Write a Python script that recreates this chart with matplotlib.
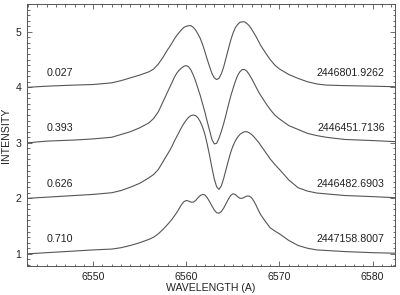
import numpy as np
import matplotlib
matplotlib.use("Agg")
import matplotlib.pyplot as plt
from matplotlib.ticker import MultipleLocator

plt.rcParams['font.family'] = ['Liberation Sans', 'DejaVu Sans']

# wavelength samples: coarse wings, 0.25 A steps across the line core
wave_left = [6543, 6545, 6548, 6550, 6552, 6553, 6554, 6555, 6556, 6556.5, 6557, 6557.5]
wave_core = list(np.arange(6558, 6568.01, 0.25))
wave_right = [6568.5, 6569, 6569.5, 6570, 6571, 6572, 6573, 6574, 6575, 6577, 6580, 6582.5]
wave = wave_left + wave_core + wave_right

spec1 = [4.00, 4.02, 4.04, 4.05, 4.08, 4.12, 4.17, 4.22, 4.28, 4.33, 4.42, 4.54,
         4.68, 4.74, 4.81, 4.88, 4.94, 4.99, 5.04, 5.08, 5.10, 5.11, 5.11, 5.08,
         5.03, 4.96, 4.88, 4.77, 4.64, 4.50, 4.37, 4.25, 4.17, 4.14, 4.16, 4.24,
         4.36, 4.52, 4.68, 4.84, 4.97, 5.07, 5.13, 5.17, 5.18, 5.18, 5.15, 5.11,
         5.05, 4.98, 4.91, 4.83, 4.75,
         4.62, 4.50, 4.40, 4.33, 4.23, 4.16, 4.10, 4.06, 4.04, 4.03, 4.02, 4.01]

spec2 = [3.00, 3.03, 3.05, 3.07, 3.10, 3.15, 3.20, 3.27, 3.36, 3.44, 3.56, 3.74,
         3.92, 4.01, 4.10, 4.19, 4.26, 4.31, 4.35, 4.38, 4.39, 4.37, 4.31, 4.22,
         4.11, 3.98, 3.85, 3.70, 3.55, 3.38, 3.22, 3.06, 2.98, 2.99, 3.08, 3.20,
         3.34, 3.50, 3.67, 3.83, 3.97, 4.10, 4.21, 4.28, 4.32, 4.32, 4.29, 4.23,
         4.16, 4.08, 4.00, 3.92, 3.85,
         3.72, 3.60, 3.50, 3.43, 3.31, 3.24, 3.17, 3.13, 3.10, 3.06, 3.04, 3.02]

spec3 = [2.00, 2.02, 2.05, 2.07, 2.10, 2.14, 2.20, 2.27, 2.37, 2.43, 2.52, 2.66,
         2.80, 2.87, 2.95, 3.04, 3.12, 3.20, 3.28, 3.35, 3.41, 3.46, 3.49, 3.50,
         3.49, 3.45, 3.38, 3.28, 3.15, 2.97, 2.77, 2.55, 2.35, 2.21, 2.16, 2.22,
         2.35, 2.51, 2.67, 2.82, 2.94, 3.03, 3.10, 3.15, 3.18, 3.20, 3.20, 3.18,
         3.15, 3.11, 3.06, 3.01, 2.95,
         2.83, 2.71, 2.61, 2.52, 2.33, 2.19, 2.13, 2.095, 2.08, 2.05, 2.03, 2.01]

spec4 = [1.00, 1.02, 1.05, 1.07, 1.085, 1.11, 1.15, 1.20, 1.26, 1.30, 1.36, 1.44,
         1.53, 1.58, 1.63, 1.69, 1.75, 1.82, 1.89, 1.94, 1.96, 1.95, 1.93, 1.93,
         1.96, 2.01, 2.05, 2.07, 2.06, 2.01, 1.94, 1.86, 1.79, 1.74, 1.73, 1.76,
         1.82, 1.90, 1.98, 2.05, 2.08, 2.07, 2.03, 2.00, 2.00, 2.02, 2.04, 2.04,
         2.01, 1.95, 1.87, 1.78, 1.70,
         1.58, 1.47, 1.41, 1.36, 1.24, 1.15, 1.10, 1.07, 1.06, 1.04, 1.02, 1.01]

phases = ["0.027", "0.393", "0.626", "0.710"]
dates = ["2446801.9262", "2446451.7136", "2446482.6903", "2447158.8007"]
offsets = [4, 3, 2, 1]

col = '#555555'
txt = '#222222'
fig = plt.figure(figsize=(4.0, 2.95), dpi=100)
ax = fig.add_axes([0.0675, 0.0983, 0.92, 0.888])

for s, ph, d, off in zip([spec1, spec2, spec3, spec4], phases, dates, offsets):
    ax.plot(wave, s, color=col, lw=0.8)
    ax.text(6545.0, off + 0.26, ph, fontsize=7.7, color=txt, va='center', ha='left')
    ax.text(6581.3, off + 0.26, d, fontsize=7.7, color=txt, va='center', ha='right')

ax.set_xlim(6542.9, 6582.4)
ax.set_ylim(0.78, 5.5)
ax.set_xticks([6550, 6560, 6570, 6580])
ax.set_yticks([1, 2, 3, 4, 5])
ax.xaxis.set_minor_locator(MultipleLocator(1))
ax.yaxis.set_minor_locator(MultipleLocator(0.1))
ax.tick_params(which='both', direction='in', top=True, right=True, colors=col,
               labelcolor=txt, labelsize=7.6, width=0.6)
ax.tick_params(which='major', length=3.5, pad=4)
ax.tick_params(which='minor', length=1.8)
for sp in ax.spines.values():
    sp.set_color(col)
    sp.set_linewidth(0.7)

ax.set_xlabel("WAVELENGTH (A)", fontsize=7.6, color=txt, labelpad=1)
ax.set_ylabel("INTENSITY", fontsize=7.6, color=txt, labelpad=3)

fig.savefig("out.png", dpi=100)
